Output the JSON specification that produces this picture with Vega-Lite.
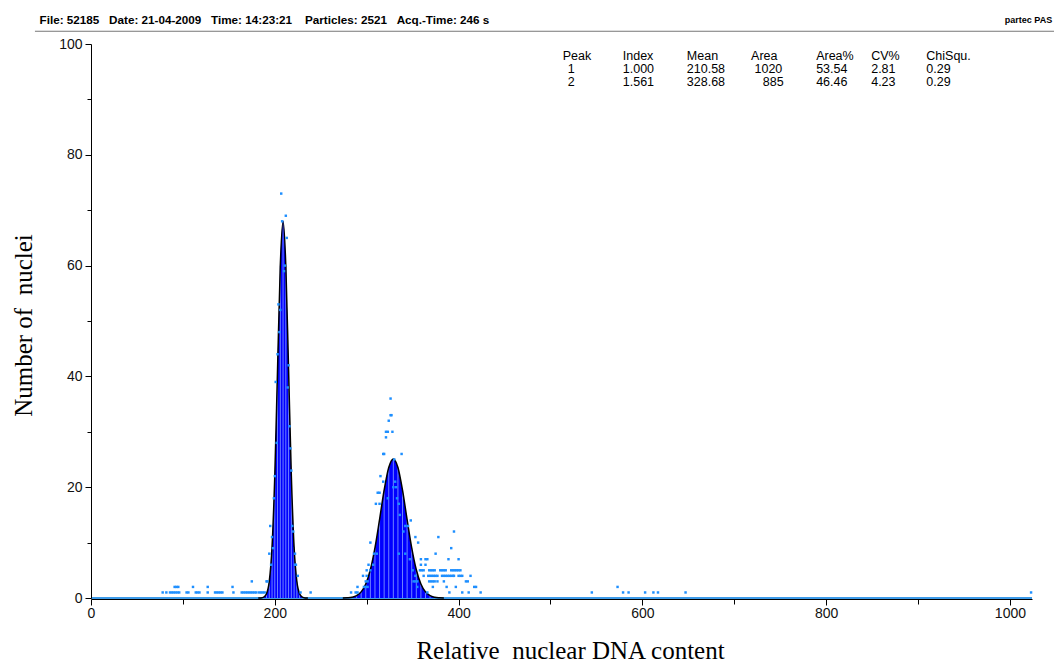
{
  "$schema": "https://vega.github.io/schema/vega-lite/v6.json",
  "width": 941,
  "height": 554,
  "autosize": "none",
  "padding": {"left": 91, "top": 44, "right": 22, "bottom": 64},
  "background": "white",
  "config": {"view": {"stroke": null}, "font": "Liberation Sans"},
  "datasets": {
    "baseline": [{"x": 0, "y": 0}, {"x": 1024, "y": 0}],
    "curves": [
      {"peak": 1, "x": 182, "y": 0}, {"peak": 1, "x": 185, "y": 0.02}, {"peak": 1, "x": 188, "y": 0.15}, {"peak": 1, "x": 191, "y": 0.76},
      {"peak": 1, "x": 194, "y": 2.99}, {"peak": 1, "x": 197, "y": 9.2}, {"peak": 1, "x": 200, "y": 22.08}, {"peak": 1, "x": 203, "y": 41.24},
      {"peak": 1, "x": 206, "y": 60.0}, {"peak": 1, "x": 209, "y": 68.0}, {"peak": 1, "x": 212, "y": 60.0}, {"peak": 1, "x": 215, "y": 41.24},
      {"peak": 1, "x": 218, "y": 22.08}, {"peak": 1, "x": 221, "y": 9.2}, {"peak": 1, "x": 224, "y": 2.99}, {"peak": 1, "x": 227, "y": 0.76},
      {"peak": 1, "x": 230, "y": 0.15}, {"peak": 1, "x": 233, "y": 0.02}, {"peak": 1, "x": 236, "y": 0},
      {"peak": 2, "x": 274, "y": 0}, {"peak": 2, "x": 279, "y": 0.04}, {"peak": 2, "x": 284, "y": 0.14}, {"peak": 2, "x": 289, "y": 0.42},
      {"peak": 2, "x": 294, "y": 1.1}, {"peak": 2, "x": 299, "y": 2.53}, {"peak": 2, "x": 304, "y": 5.1}, {"peak": 2, "x": 309, "y": 9.05},
      {"peak": 2, "x": 314, "y": 14.14}, {"peak": 2, "x": 319, "y": 19.45}, {"peak": 2, "x": 324, "y": 23.55}, {"peak": 2, "x": 329, "y": 25.1},
      {"peak": 2, "x": 334, "y": 23.55}, {"peak": 2, "x": 339, "y": 19.45}, {"peak": 2, "x": 344, "y": 14.14}, {"peak": 2, "x": 349, "y": 9.05},
      {"peak": 2, "x": 354, "y": 5.1}, {"peak": 2, "x": 359, "y": 2.53}, {"peak": 2, "x": 364, "y": 1.1}, {"peak": 2, "x": 369, "y": 0.42},
      {"peak": 2, "x": 374, "y": 0.14}, {"peak": 2, "x": 379, "y": 0.04}, {"peak": 2, "x": 384, "y": 0}
    ],
    "dots": [
      {"x": 207, "y": 73}, {"x": 212, "y": 69}, {"x": 208, "y": 68}, {"x": 213, "y": 65}, {"x": 211, "y": 60}, {"x": 210, "y": 59},
      {"x": 204, "y": 53}, {"x": 206, "y": 52}, {"x": 205, "y": 48}, {"x": 203, "y": 44}, {"x": 215, "y": 42}, {"x": 201, "y": 39},
      {"x": 214, "y": 38}, {"x": 216, "y": 31}, {"x": 202, "y": 28}, {"x": 217, "y": 27}, {"x": 218, "y": 23}, {"x": 200, "y": 22},
      {"x": 199, "y": 18}, {"x": 219, "y": 13}, {"x": 195, "y": 13}, {"x": 220, "y": 12}, {"x": 197, "y": 11}, {"x": 198, "y": 9},
      {"x": 194, "y": 8}, {"x": 222, "y": 8}, {"x": 196, "y": 6}, {"x": 222, "y": 6}, {"x": 223, "y": 6}, {"x": 225, "y": 4},
      {"x": 191, "y": 3}, {"x": 192, "y": 3}, {"x": 175, "y": 3}, {"x": 228, "y": 1}, {"x": 239, "y": 1},
      {"x": 91, "y": 2}, {"x": 93, "y": 2}, {"x": 95, "y": 2}, {"x": 111, "y": 2}, {"x": 127, "y": 2}, {"x": 154, "y": 2},
      {"x": 78, "y": 1}, {"x": 82, "y": 1}, {"x": 86, "y": 1}, {"x": 88, "y": 1}, {"x": 90, "y": 1}, {"x": 92, "y": 1}, {"x": 94, "y": 1},
      {"x": 96, "y": 1}, {"x": 104, "y": 1}, {"x": 106, "y": 1}, {"x": 114, "y": 1}, {"x": 116, "y": 1}, {"x": 118, "y": 1}, {"x": 127, "y": 1},
      {"x": 135, "y": 1}, {"x": 137, "y": 1}, {"x": 139, "y": 1}, {"x": 141, "y": 1}, {"x": 143, "y": 1}, {"x": 155, "y": 1}, {"x": 164, "y": 1},
      {"x": 166, "y": 1}, {"x": 168, "y": 1}, {"x": 170, "y": 1}, {"x": 172, "y": 1}, {"x": 174, "y": 1}, {"x": 176, "y": 1}, {"x": 178, "y": 1},
      {"x": 180, "y": 1}, {"x": 183, "y": 1}, {"x": 185, "y": 1}, {"x": 187, "y": 1}, {"x": 189, "y": 1},
      {"x": 326, "y": 36}, {"x": 326, "y": 33}, {"x": 327, "y": 33}, {"x": 324, "y": 32}, {"x": 321, "y": 30}, {"x": 323, "y": 30},
      {"x": 328, "y": 30}, {"x": 321, "y": 29}, {"x": 318, "y": 26}, {"x": 319, "y": 26}, {"x": 338, "y": 26}, {"x": 330, "y": 25},
      {"x": 315, "y": 22}, {"x": 318, "y": 21}, {"x": 331, "y": 21}, {"x": 329, "y": 20}, {"x": 332, "y": 20}, {"x": 312, "y": 19},
      {"x": 314, "y": 19}, {"x": 323, "y": 18}, {"x": 333, "y": 18}, {"x": 310, "y": 17}, {"x": 314, "y": 17}, {"x": 335, "y": 17},
      {"x": 336, "y": 15}, {"x": 348, "y": 14}, {"x": 342, "y": 13}, {"x": 345, "y": 13}, {"x": 340, "y": 12}, {"x": 353, "y": 11},
      {"x": 378, "y": 11}, {"x": 395, "y": 12}, {"x": 304, "y": 10}, {"x": 356, "y": 10}, {"x": 392, "y": 9}, {"x": 308, "y": 8},
      {"x": 311, "y": 8}, {"x": 335, "y": 8}, {"x": 342, "y": 8}, {"x": 375, "y": 8}, {"x": 302, "y": 6}, {"x": 307, "y": 6},
      {"x": 359, "y": 7}, {"x": 364, "y": 7}, {"x": 366, "y": 7}, {"x": 389, "y": 7}, {"x": 400, "y": 7}, {"x": 347, "y": 7},
      {"x": 359, "y": 6}, {"x": 364, "y": 6},
      {"x": 300, "y": 5}, {"x": 304, "y": 5}, {"x": 350, "y": 5}, {"x": 358, "y": 5}, {"x": 360, "y": 5}, {"x": 362, "y": 5}, {"x": 368, "y": 5},
      {"x": 370, "y": 5}, {"x": 372, "y": 5}, {"x": 374, "y": 5}, {"x": 380, "y": 5}, {"x": 382, "y": 5}, {"x": 384, "y": 5}, {"x": 386, "y": 5},
      {"x": 392, "y": 5}, {"x": 394, "y": 5}, {"x": 396, "y": 5}, {"x": 398, "y": 5}, {"x": 400, "y": 5}, {"x": 402, "y": 5},
      {"x": 296, "y": 4}, {"x": 300, "y": 4}, {"x": 353, "y": 4}, {"x": 362, "y": 4}, {"x": 367, "y": 4}, {"x": 369, "y": 4}, {"x": 371, "y": 4},
      {"x": 373, "y": 4}, {"x": 375, "y": 4}, {"x": 377, "y": 4}, {"x": 382, "y": 4}, {"x": 384, "y": 4}, {"x": 386, "y": 4}, {"x": 388, "y": 4},
      {"x": 390, "y": 4}, {"x": 392, "y": 4}, {"x": 394, "y": 4}, {"x": 395, "y": 4}, {"x": 400, "y": 4}, {"x": 402, "y": 4}, {"x": 404, "y": 4},
      {"x": 413, "y": 4},
      {"x": 299, "y": 3}, {"x": 301, "y": 3}, {"x": 351, "y": 3}, {"x": 353, "y": 3}, {"x": 355, "y": 3}, {"x": 368, "y": 3}, {"x": 370, "y": 3},
      {"x": 372, "y": 3}, {"x": 374, "y": 3}, {"x": 377, "y": 3}, {"x": 384, "y": 3}, {"x": 408, "y": 3}, {"x": 410, "y": 3},
      {"x": 290, "y": 2}, {"x": 297, "y": 2}, {"x": 299, "y": 2}, {"x": 301, "y": 2}, {"x": 355, "y": 2}, {"x": 372, "y": 2}, {"x": 387, "y": 2},
      {"x": 397, "y": 2}, {"x": 417, "y": 2}, {"x": 419, "y": 2},
      {"x": 283, "y": 1}, {"x": 288, "y": 1}, {"x": 290, "y": 1}, {"x": 366, "y": 1}, {"x": 390, "y": 1}, {"x": 404, "y": 1}, {"x": 411, "y": 1},
      {"x": 424, "y": 1},
      {"x": 545, "y": 1}, {"x": 573, "y": 2}, {"x": 579, "y": 1}, {"x": 585, "y": 1}, {"x": 603, "y": 1}, {"x": 612, "y": 1}, {"x": 617, "y": 1},
      {"x": 647, "y": 1}, {"x": 1023, "y": 1}
    ],
    "headerline": [{"x": -61, "x2": 1050, "y": 102.3}],
    "header": [{"x": -56, "y": 104.3, "text": "File: 52185\u00a0\u00a0\u00a0Date: 21-04-2009\u00a0\u00a0\u00a0Time: 14:23:21\u00a0\u00a0\u00a0\u00a0Particles: 2521\u00a0\u00a0\u00a0Acq.-Time: 246 s"}],
    "brand": [{"x": 1046, "y": 104.3, "text": "partec PAS"}],
    "table": [
      {"x": 513.4, "y": 97.8, "text": "Peak"}, {"x": 578.7, "y": 97.8, "text": "Index"}, {"x": 648.4, "y": 97.8, "text": "Mean"},
      {"x": 718.3, "y": 97.8, "text": "Area"}, {"x": 789.1, "y": 97.8, "text": "Area%"}, {"x": 849.0, "y": 97.8, "text": "CV%"},
      {"x": 909.0, "y": 97.8, "text": "ChiSqu."},
      {"x": 518.8, "y": 95.5, "text": "1"}, {"x": 578.7, "y": 95.5, "text": "1.000"}, {"x": 648.4, "y": 95.5, "text": "210.58"},
      {"x": 722.0, "y": 95.5, "text": "1020"}, {"x": 789.1, "y": 95.5, "text": "53.54"}, {"x": 849.0, "y": 95.5, "text": "2.81"},
      {"x": 909.0, "y": 95.5, "text": "0.29"},
      {"x": 518.8, "y": 93.1, "text": "2"}, {"x": 578.7, "y": 93.1, "text": "1.561"}, {"x": 648.4, "y": 93.1, "text": "328.68"},
      {"x": 731.0, "y": 93.1, "text": "885"}, {"x": 789.1, "y": 93.1, "text": "46.46"}, {"x": 849.0, "y": 93.1, "text": "4.23"},
      {"x": 909.0, "y": 93.1, "text": "0.29"}
    ]
  },
  "layer": [
    {
      "data": {"name": "baseline"},
      "mark": {"type": "line", "color": "#3d9be9", "strokeWidth": 2},
      "encoding": {
        "x": {
          "field": "x", "type": "quantitative",
          "scale": {"domain": [0, 1024], "nice": false, "zero": false},
          "axis": {
            "values": [0, 100, 200, 300, 400, 500, 600, 700, 800, 900, 1000],
            "labelExpr": "datum.value % 200 === 0 ? '' + datum.value : ''",
            "tickSize": {"condition": {"test": "datum.value % 200 === 0", "value": 6}, "value": 5},
            "grid": false, "offset": 1, "zindex": 1,
            "domainColor": "black", "tickColor": "black",
            "labelFont": "Liberation Sans", "labelFontSize": 14, "labelColor": "#111", "labelPadding": 1,
            "labelFlush": false, "labelOverlap": false,
            "title": "Relative\u00a0 nuclear DNA content",
            "titleFont": "Liberation Serif", "titleFontSize": 25, "titleFontWeight": "normal", "titleColor": "black",
            "titleX": 479, "titleY": 59, "titleAlign": "center", "titleBaseline": "alphabetic"
          }
        },
        "y": {
          "field": "y", "type": "quantitative",
          "scale": {"domain": [0, 100], "nice": false},
          "axis": {
            "values": [0, 10, 20, 30, 40, 50, 60, 70, 80, 90, 100],
            "labelExpr": "datum.value % 20 === 0 ? '' + datum.value : ''",
            "tickSize": {"condition": {"test": "datum.value % 20 === 0", "value": 6}, "value": 4},
            "grid": false, "zindex": 1,
            "domainColor": "black", "tickColor": "black",
            "labelFont": "Liberation Sans", "labelFontSize": 14, "labelColor": "#111", "labelPadding": 3,
            "labelFlush": false, "labelOverlap": false,
            "title": "Number of\u00a0 nuclei",
            "titleFont": "Liberation Serif", "titleFontSize": 25, "titleFontWeight": "normal", "titleColor": "black",
            "titleX": -60, "titleY": 281, "titleAlign": "center", "titleBaseline": "alphabetic", "titleAngle": 270
          }
        }
      }
    },
    {
      "data": {"name": "curves"},
      "mark": {"type": "area", "color": "#0000ff", "opacity": 1, "interpolate": "monotone"},
      "encoding": {
        "x": {"field": "x", "type": "quantitative"},
        "y": {"field": "y", "type": "quantitative"},
        "detail": {"field": "peak"}
      }
    },
    {
      "data": {"name": "curves"},
      "mark": {"type": "rule", "color": "#6f82ff", "strokeWidth": 1},
      "encoding": {
        "x": {"field": "x", "type": "quantitative"},
        "y": {"field": "y", "type": "quantitative"},
        "y2": {"datum": 0}
      }
    },
    {
      "data": {"name": "curves"},
      "mark": {"type": "line", "color": "black", "strokeWidth": 1.5, "interpolate": "monotone"},
      "encoding": {
        "x": {"field": "x", "type": "quantitative"},
        "y": {"field": "y", "type": "quantitative"},
        "detail": {"field": "peak"}
      }
    },
    {
      "data": {"name": "dots"},
      "mark": {"type": "square", "size": 6, "color": "#1e8fff", "opacity": 1, "filled": true},
      "encoding": {
        "x": {"field": "x", "type": "quantitative"},
        "y": {"field": "y", "type": "quantitative"}
      }
    },
    {
      "mark": {"type": "rule", "color": "black", "strokeWidth": 1},
      "encoding": {
        "x": {"datum": 1024, "type": "quantitative"},
        "y": {"datum": 0, "type": "quantitative"},
        "y2": {"datum": 100}
      }
    },
    {
      "data": {"name": "headerline"},
      "mark": {"type": "rule", "color": "#777", "strokeWidth": 1},
      "encoding": {
        "x": {"field": "x", "type": "quantitative"},
        "x2": {"field": "x2"},
        "y": {"field": "y", "type": "quantitative"}
      }
    },
    {
      "data": {"name": "header"},
      "mark": {"type": "text", "align": "left", "baseline": "middle", "font": "Liberation Sans", "fontWeight": "bold", "fontSize": 11.7, "color": "black"},
      "encoding": {
        "x": {"field": "x", "type": "quantitative"},
        "y": {"field": "y", "type": "quantitative"},
        "text": {"field": "text"}
      }
    },
    {
      "data": {"name": "brand"},
      "mark": {"type": "text", "align": "right", "baseline": "middle", "font": "Liberation Sans", "fontWeight": "bold", "fontSize": 9, "color": "black"},
      "encoding": {
        "x": {"field": "x", "type": "quantitative"},
        "y": {"field": "y", "type": "quantitative"},
        "text": {"field": "text"}
      }
    },
    {
      "data": {"name": "table"},
      "mark": {"type": "text", "align": "left", "baseline": "middle", "font": "Liberation Sans", "fontSize": 12.5, "color": "black"},
      "encoding": {
        "x": {"field": "x", "type": "quantitative"},
        "y": {"field": "y", "type": "quantitative"},
        "text": {"field": "text"}
      }
    }
  ]
}
